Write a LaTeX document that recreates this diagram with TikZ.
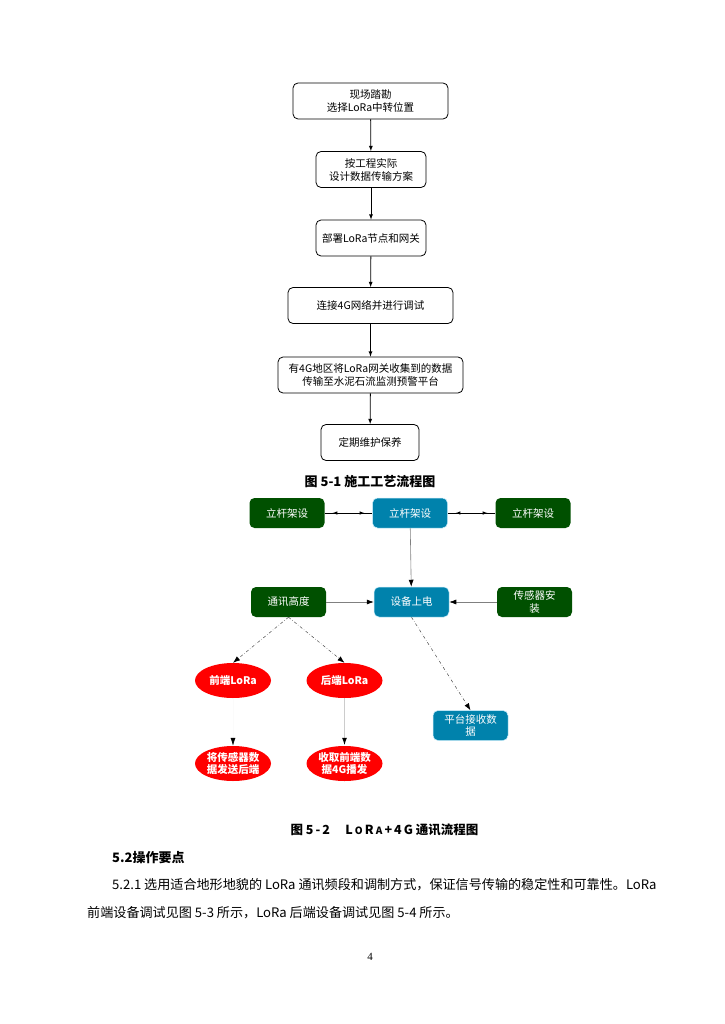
\documentclass[tikz,border=0pt]{standalone}
\usepackage{fontspec}
\setmainfont{Noto Sans CJK SC}
\newfontfamily\seitenfont{Liberation Serif}
\usepackage{tikz}
\usetikzlibrary{arrows,arrows.meta,shapes.geometric}

\tikzset{
  liucheng/.style={draw, line width=0.8pt, rounded corners=5pt, align=center,
    minimum height=36pt, inner sep=1pt, font=\fontsize{10.5}{13}\selectfont},
  gruen/.style={fill={rgb,255:red,0;green,80;blue,0}, rounded corners=5pt, align=center,
    minimum width=75pt, minimum height=30pt, inner sep=1pt, text=white,
    font=\fontsize{10.5}{12.5}\selectfont},
  blau/.style={gruen, fill={rgb,255:red,0;green,130;blue,172}, draw=white!80!cyan, line width=0.5pt},
  rot/.style={ellipse, fill=red, minimum width=76pt, minimum height=35pt, inner sep=0pt,
    text=white, align=center, font=\bfseries\fontsize{10.5}{12}\selectfont},
  pfeil/.style={-latex, line width=0.8pt},
  grau/.style={draw=gray, -{Latex[black,length=7pt,width=5pt]}, line width=0.6pt},
  punkt/.style={dash dot, line width=0.5pt, draw=black!70, -{Latex[black,length=7pt,width=5pt]}},
}

\begin{document}
\begin{tikzpicture}[x=1pt,y=-1pt]
\useasboundingbox[fill=white] (0,0) rectangle (724,1024);

% Bild 5-1
\node[liucheng, minimum width=155pt] (kance) at (370.5,101) {现场踏勘\\选择LoRa中转位置};
\node[liucheng, minimum width=110pt] (fangan) at (371,169.5) {按工程实际\\设计数据传输方案};
\node[liucheng, minimum width=110pt] (bushu) at (371,238) {部署LoRa节点和网关};
\node[liucheng, minimum width=165pt] (tiaoshi) at (370.5,305.5) {连接4G网络并进行调试};
\node[liucheng, minimum width=185pt] (chuanshu) at (370.5,375) {有4G地区将LoRa网关收集到的数据\\传输至水泥石流监测预警平台};
\node[liucheng, minimum width=98pt] (weihu) at (370,442.5) {定期维护保养};
\draw[pfeil] (kance) -- (fangan);
\draw[pfeil] (fangan) -- (bushu);
\draw[pfeil] (bushu) -- (tiaoshi);
\draw[pfeil] (tiaoshi) -- (chuanshu);
\draw[pfeil] (chuanshu) -- (weihu);
\node[font=\bfseries\fontsize{13}{15}\selectfont] (titel1) at (370,482) {图 5-1 施工工艺流程图};

% Bild 5-2
\node[gruen] (ganL) at (287,513) {立杆架设};
\node[blau] (ganC) at (410,513) {立杆架设};
\node[gruen] (ganR) at (533,513) {立杆架设};
\node[gruen] (tongxun) at (288.5,602) {通讯高度};
\node[blau] (shangdian) at (411.5,602) {设备上电};
\node[gruen] (chuangan) at (534.5,602) {传感器安\\装};
\node[rot] (qianduan) at (233,680.5) {前端LoRa};
\node[rot] (houduan) at (344.5,680.5) {后端LoRa};
\node[rot] (fasong) at (233,763.5) {将传感器数\\据发送后端};
\node[rot] (bofa) at (344.5,763.5) {收取前端数\\据4G播发};
\node[blau] (pingtai) at (470.5,725.5) {平台接收数\\据};

\draw[line width=0.6pt] (ganL) -- (ganC);
\draw[latex-latex, line width=0.6pt, shorten <=8pt, shorten >=8pt] (ganL) -- (ganC);
\draw[line width=0.6pt] (ganC) -- (ganR);
\draw[latex-latex, line width=0.6pt, shorten <=8pt, shorten >=8pt] (ganC) -- (ganR);
\draw[grau] (ganC) -- (shangdian);
\draw[grau] (tongxun) -- (shangdian);
\draw[grau] (chuangan) -- (shangdian);
\draw[punkt] (tongxun.south) -- (qianduan.north);
\draw[punkt] (tongxun.south) -- (houduan.north);
\draw[punkt] (shangdian.south) -- (pingtai.north);
\draw[draw=gray!3, -{Latex[black,length=8pt,width=5pt]}, line width=0.6pt] (qianduan) -- (fasong);
\draw[draw=gray!40, -{Latex[black,length=8pt,width=5pt]}, line width=1.6pt] (houduan) -- (bofa);

\node[font=\bfseries\fontsize{12.5}{14}\selectfont] (titel2) at (384.5,830)
  {图 5\,-\,2\quad\ L\,{\fontsize{10}{11}\selectfont O}\,R\,{\fontsize{10}{11}\selectfont A}\,+\,4\,G 通讯流程图};

% Text
\node[anchor=west, inner sep=0pt, font=\bfseries\fontsize{13}{15}\selectfont] (abschnitt) at (112,858) {5.2操作要点};
\node[anchor=west, inner sep=0pt, font=\fontsize{13.1}{16}\selectfont] (zeile1) at (112,885)
  {5.2.1 选用适合地形地貌的 LoRa 通讯频段和调制方式，保证信号传输的稳定性和可靠性。LoRa};
\node[anchor=west, inner sep=0pt, font=\fontsize{13.1}{16}\selectfont] (zeile2) at (87,913)
  {前端设备调试见图 5-3 所示，LoRa 后端设备调试见图 5-4 所示。};
\node[font=\seitenfont\fontsize{11}{13}\selectfont] (seite) at (370,957) {4};
\end{tikzpicture}
\end{document}
